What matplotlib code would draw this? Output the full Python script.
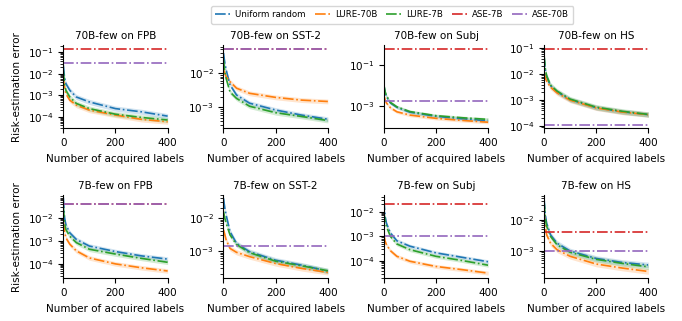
import numpy as np
import matplotlib
matplotlib.use("Agg")
import matplotlib.pyplot as plt
from matplotlib.ticker import LogLocator, NullLocator

plt.rcParams["font.family"] = ["DejaVu Sans"]
plt.rcParams["font.size"] = 7.5

# ====== data (log10 of risk-estimation error) ======
x_labels = [0, 5, 10, 25, 50, 100, 200, 300, 400]

titles = ["70B-few on FPB", "70B-few on SST-2", "70B-few on Subj", "70B-few on HS",
          "7B-few on FPB", "7B-few on SST-2", "7B-few on Subj", "7B-few on HS"]

uniform_log = [
    [-1.60, -2.20, -2.46, -2.77, -3.08, -3.31, -3.62, -3.77, -3.97],
    [-1.41, -1.70, -1.90, -2.34, -2.64, -2.88, -3.08, -3.23, -3.35],
    [-1.98, -2.35, -2.55, -2.85, -3.06, -3.30, -3.50, -3.62, -3.72],
    [-1.30, -1.85, -2.10, -2.45, -2.68, -2.98, -3.29, -3.45, -3.56],
    [-1.10, -2.00, -2.29, -2.64, -2.93, -3.22, -3.46, -3.65, -3.79],
    [-1.40, -1.70, -1.90, -2.41, -2.77, -3.02, -3.28, -3.43, -3.61],
    [-1.50, -2.20, -2.47, -2.86, -3.18, -3.40, -3.67, -3.85, -4.03],
    [-1.30, -1.85, -2.11, -2.48, -2.75, -3.00, -3.24, -3.37, -3.45],
]
lure70_log = [
    [-2.20, -2.65, -2.93, -3.23, -3.46, -3.69, -3.92, -4.12, -4.23],
    [-1.90, -2.00, -2.10, -2.25, -2.44, -2.59, -2.71, -2.79, -2.83],
    [-2.46, -2.70, -2.85, -3.08, -3.28, -3.44, -3.60, -3.70, -3.79],
    [-1.90, -2.15, -2.26, -2.50, -2.72, -3.00, -3.30, -3.46, -3.56],
    [-2.14, -2.60, -2.86, -3.14, -3.43, -3.74, -4.00, -4.17, -4.31],
    [-2.36, -2.50, -2.66, -2.92, -3.04, -3.17, -3.38, -3.53, -3.65],
    [-2.93, -3.20, -3.34, -3.58, -3.81, -4.01, -4.22, -4.35, -4.49],
    [-1.73, -2.20, -2.48, -2.75, -2.96, -3.17, -3.42, -3.55, -3.66],
]
lure7_log = [
    [-1.85, -2.50, -2.77, -3.08, -3.38, -3.62, -3.88, -4.03, -4.15],
    [-1.60, -1.95, -2.15, -2.55, -2.74, -2.97, -3.16, -3.27, -3.39],
    [-1.95, -2.30, -2.50, -2.82, -3.04, -3.27, -3.47, -3.57, -3.65],
    [-1.25, -1.80, -2.06, -2.42, -2.65, -2.96, -3.27, -3.43, -3.55],
    [-1.50, -2.20, -2.50, -2.79, -3.07, -3.36, -3.57, -3.76, -3.93],
    [-1.80, -2.00, -2.15, -2.51, -2.80, -3.05, -3.31, -3.45, -3.60],
    [-2.00, -2.40, -2.60, -3.00, -3.31, -3.54, -3.81, -3.98, -4.17],
    [-1.40, -1.95, -2.20, -2.53, -2.80, -3.04, -3.27, -3.40, -3.51],
]
# constant baselines (log10), None = not shown
ase7_log = [-0.86, -1.30, -0.23, -1.04, -1.37, None, -1.69, -2.38]
ase70_log = [-1.51, -1.30, -2.76, -3.95, -1.37, -2.84, -3.00, -3.00]

# band half-width in decades
band_log = [0.12, 0.07, 0.08, 0.10, 0.10, 0.08, 0.08, 0.09]

# axis limits (log10) and labelled decades
ylims_log = [(-4.54, -0.66), (-3.62, -1.17), (-4.09, -0.02), (-4.09, -0.87),
             (-4.63, -0.98), (-3.83, -1.29), (-4.70, -1.32), (-3.88, -1.19)]
yticks_log = [[-4, -3, -2, -1], [-3, -2], [-3, -1], [-4, -3, -2, -1],
              [-4, -3, -2], [-3, -2], [-4, -3, -2], [-3, -2]]

# ====== figure ======
fig = plt.figure(figsize=(6.82, 3.21), dpi=100)
lefts = [0.0928, 0.3277, 0.5628, 0.7977]
bottoms = [0.600, 0.133]
w, h = 0.153, 0.260

x = np.array(x_labels)
series = [("Uniform random", uniform_log, "C0"),
          ("LURE-70B", lure70_log, "C1"),
          ("LURE-7B", lure7_log, "C2")]

handles = {}
for i in range(8):
    r, c = divmod(i, 4)
    ax = fig.add_axes([lefts[c], bottoms[r], w, h])
    ax.set_yscale("log")
    for name, data, col in series:
        y = np.array(data[i])
        ln, = ax.plot(x, 10 ** y, linestyle="-.", color=col, lw=1.2, label=name)
        ax.fill_between(x, 10 ** (y - band_log[i]), 10 ** (y + band_log[i]),
                        color=col, alpha=0.2, lw=0)
        handles[name] = ln
    if ase7_log[i] is not None:
        ln = ax.axhline(10 ** ase7_log[i], linestyle="-.", color="C3", lw=1.2, label="ASE-7B")
        handles["ASE-7B"] = ln
    ln = ax.axhline(10 ** ase70_log[i], linestyle="-.", color="C4", lw=1.2, label="ASE-70B")
    handles["ASE-70B"] = ln

    ax.set_xlim(0, 400)
    ax.set_xticks([0, 200, 400])
    ax.set_ylim(10 ** ylims_log[i][0], 10 ** ylims_log[i][1])
    ax.set_yticks([10.0 ** t for t in yticks_log[i]])
    if i == 2:
        ax.yaxis.set_minor_locator(NullLocator())
    else:
        ax.yaxis.set_minor_locator(LogLocator(base=10, subs=np.arange(2, 10), numticks=20))
    ax.spines["top"].set_visible(False)
    ax.spines["right"].set_visible(False)
    ax.set_title(titles[i], fontsize=7.5, pad=4)
    ax.set_xlabel("Number of acquired labels", fontsize=7.5)
    if c == 0:
        ax.set_ylabel("Risk-estimation error", fontsize=7.5)
    ax.tick_params(labelsize=7.5)

order = ["Uniform random", "LURE-70B", "LURE-7B", "ASE-7B", "ASE-70B"]
fig.legend([handles[k] for k in order], order, loc="upper center",
           bbox_to_anchor=(0.575, 0.995), ncol=5, fontsize=6.2, frameon=True,
           handlelength=2.0, handletextpad=0.35, columnspacing=1.0, borderpad=0.5)

fig.savefig("out.png", dpi=100)
